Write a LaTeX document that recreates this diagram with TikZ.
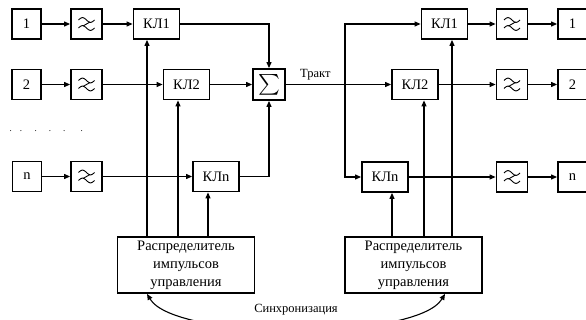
\documentclass[tikz,border=0pt]{standalone}
\usepackage{amsmath}
\usepackage{fontspec}
\setmainfont{Liberation Serif}
\usetikzlibrary{arrows.meta,positioning}

\begin{document}
\begin{tikzpicture}[x=1pt, y=-1pt, >={Triangle[length=6pt,width=5pt]},
    blk/.style={draw, line width=1.8pt, minimum height=30pt, inner sep=0pt, font=\fontsize{14.5}{18}\selectfont},
    src/.style={blk, minimum width=29pt},
    key/.style={blk, minimum width=46pt},
    filt/.style={blk, minimum width=31pt, path picture={
        \draw[line width=0.9pt] ([shift={(-8pt,4pt)}]path picture bounding box.center)
            sin ++(4pt,2.5pt) cos ++(4pt,-2.5pt) sin ++(4pt,-2.5pt) cos ++(4pt,2.5pt);
        \draw[line width=0.9pt] ([shift={(-8pt,-4pt)}]path picture bounding box.center)
            sin ++(4pt,2.5pt) cos ++(4pt,-2.5pt) sin ++(4pt,-2.5pt) cos ++(4pt,2.5pt);
        \draw[line width=0.9pt] ([shift={(3.5pt,2pt)}]path picture bounding box.center)
            -- ([shift={(-3.5pt,-2pt)}]path picture bounding box.center);}},
    dist/.style={blk, minimum width=137pt, minimum height=56pt, align=center},
    lnk/.style={line width=1.1pt},
    lbl/.style={font=\fontsize{12.5}{15}\selectfont},
    ]
    \useasboundingbox (0,0) rectangle (586,320);

    % transmitting side
    \node[src] (s1) at (26.5,24) {1};
    \node[filt] (f1) at (86.5,24) {};
    \node[key] (k1) at (156.5,24) {КЛ1};
    \node[src] (s2) at (26.5,84.5) {2};
    \node[filt] (f2) at (86.5,84.5) {};
    \node[key] (k2) at (186.5,84.5) {КЛ2};
    \foreach \x [count=\i] in {10.7,21,35.7,50,64.3,81.7}
        \node[inner sep=0pt, font=\small] (dot\i) at (\x,131) {.};
    \node[src] (sn) at (27,176.5) {n};
    \node[filt] (fn) at (86.5,176.5) {};
    \node[key] (kn) at (216,176.5) {КЛn};
    \node[blk, minimum width=32pt, minimum height=31pt, font=\fontsize{20}{20}\selectfont] (sum) at (269,84.5) {$\sum$};
    \node[dist] (dl) at (186,265) {Распределитель\\импульсов\\управления};

    % receiving side
    \node[key] (r1) at (444.5,24) {КЛ1};
    \node[filt] (g1) at (512,24) {};
    \node[src] (t1) at (572.5,24) {1};
    \node[key] (r2) at (415,84.5) {КЛ2};
    \node[filt] (g2) at (512,84.5) {};
    \node[src] (t2) at (572.5,84.5) {2};
    \node[key] (rn) at (385,177) {КЛn};
    \node[filt] (gn) at (512,177) {};
    \node[src] (tn) at (572.5,177) {n};
    \node[dist] (dr) at (413.5,265) {Распределитель\\импульсов\\управления};

    \draw[lnk,->] (s1) -- (f1);
    \draw[lnk,->] (f1) -- (k1);
    \draw[lnk,->] (s2) -- (f2);
    \draw[lnk,->] (f2) -- (k2);
    \draw[lnk,->] (sn) -- (fn);
    \draw[lnk,->] (fn) -- (kn);
    \draw[lnk,->] (k1) -| (sum);
    \draw[lnk,->] (k2) -- (sum);
    \draw[lnk,->] (kn) -| (sum);

    % control pulses
    \coordinate (c1) at (147,0);
    \coordinate (c2) at (178,0);
    \coordinate (cn) at (208,0);
    \draw[lnk,->] (dl.north -| c1) -- (k1.south -| c1);
    \draw[lnk,->] (dl.north -| c2) -- (k2.south -| c2);
    \draw[lnk,->] (dl.north -| cn) -- (kn.south -| cn);
    \coordinate (d1) at (452,0);
    \coordinate (d2) at (424,0);
    \coordinate (dn) at (392,0);
    \draw[lnk,->] (dr.north -| d1) -- (r1.south -| d1);
    \draw[lnk,->] (dr.north -| d2) -- (r2.south -| d2);
    \draw[lnk,->] (dr.north -| dn) -- (rn.south -| dn);

    \draw[lnk,->] (sum) -- node[lbl, above, pos=0.28] (trakt) {Тракт} (r2);
    \coordinate (br) at (345,84.5);
    \draw[lnk,->] (br) |- (r1);
    \draw[lnk,->] (br) |- (rn);
    \draw[lnk,->] (r1) -- (g1);
    \draw[lnk,->] (g1) -- (t1);
    \draw[lnk,->] (r2) -- (g2);
    \draw[lnk,->] (g2) -- (t2);
    \draw[lnk,->] (rn) -- (gn);
    \draw[lnk,->] (gn) -- (tn);

    % synchronisation
    \coordinate (e1) at (445,0);
    \draw[lnk,<->] (dl.south -| c1) .. controls +(28,47) and +(-28,47) .. (dr.south -| e1);
    \node[lbl] (sync) at (296,310) {Синхронизация};
\end{tikzpicture}
\end{document}
